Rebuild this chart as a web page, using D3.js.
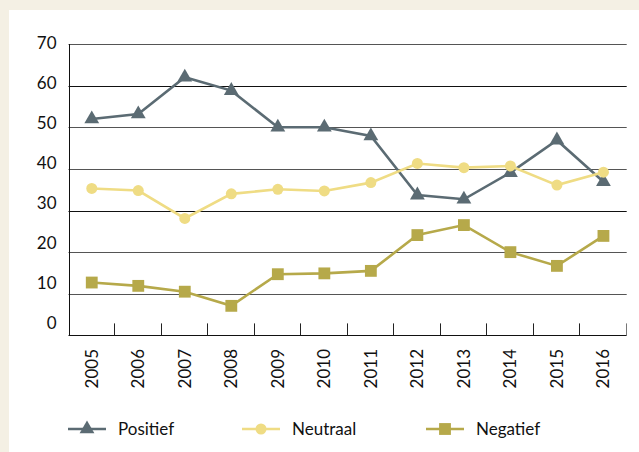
<!DOCTYPE html>
<html>
<head>
<meta charset="utf-8">
<script src="https://cdn.jsdelivr.net/npm/d3@7"></script>
<style>
  html, body { margin: 0; padding: 0; background: #f4f0e4; }
  svg { display: block; font-family: Lato, "Open Sans", sans-serif; }
</style>
</head>
<body>
<script>
const width = 639;
const height = 452;

const years = ['2005', '2006', '2007', '2008', '2009', '2010', '2011', '2012', '2013', '2014', '2015', '2016'];
const positief = [52, 53.2, 62, 58.8, 50, 50, 47.9, 33.7, 32.7, 39.1, 46.9, 36.9];
const neutraal = [35.3, 34.8, 28.1, 34, 35.1, 34.7, 36.7, 41.3, 40.3, 40.7, 36.1, 39.2];
const negatief = [12.7, 11.9, 10.5, 7.1, 14.7, 14.9, 15.5, 24.1, 26.5, 20, 16.7, 23.9];
const yTicks = [0, 10, 20, 30, 40, 50, 60, 70];

const series = [
  {name: 'Positief', values: positief, color: '#5b6b73', symbol: d3.symbolTriangle, size: 95},
  {name: 'Neutraal', values: neutraal, color: '#efdc84', symbol: d3.symbolCircle, size: 95},
  {name: 'Negatief', values: negatief, color: '#b6a94a', symbol: d3.symbolSquare, size: 140}
];

const svg = d3.select('body').append('svg')
  .attr('width', width)
  .attr('height', height);

// white panel on beige page
svg.append('rect')
  .attr('x', 9).attr('y', 10)
  .attr('width', width - 9).attr('height', height - 10)
  .attr('fill', '#fff');

const plotLeft = 68.5, plotRight = 626.7, plotTop = 44, plotBottom = 335.4;

const x = d3.scaleBand().domain(years).range([plotLeft, plotRight]);
const y = d3.scaleLinear().domain([0, 70]).range([plotBottom, plotTop]);
// the labels in the original sit a little off the grid
const yLabel = d3.scaleLinear().domain([0, 70]).range([323, 43]);

// gridlines
svg.append('g')
  .selectAll('line')
  .data(yTicks.filter(d => d > 0))
  .enter().append('line')
    .attr('x1', plotLeft).attr('x2', plotRight)
    .attr('y1', d => Math.round(y(d)) + 0.5)
    .attr('y2', d => Math.round(y(d)) + 0.5)
    .attr('stroke', (d, i) => i % 3 === 2 ? '#111' : '#555')
    .attr('stroke-width', 1.1);

// y labels
const yAxis = svg.append('g')
  .attr('transform', `translate(${plotLeft - 12},0)`)
  .call(d3.axisLeft(yLabel).tickValues(yTicks).tickSize(0).tickPadding(0));
yAxis.select('.domain').remove();
yAxis.selectAll('text')
  .attr('font-size', 17)
  .attr('font-family', 'Lato, "Open Sans", sans-serif')
  .attr('fill', '#111');

// axes lines
svg.append('line')
  .attr('x1', Math.round(plotLeft) + 0.5).attr('x2', Math.round(plotLeft) + 0.5)
  .attr('y1', plotTop).attr('y2', plotBottom)
  .attr('stroke', '#111');
svg.append('line')
  .attr('x1', plotLeft).attr('x2', plotRight)
  .attr('y1', Math.round(plotBottom) + 0.5).attr('y2', Math.round(plotBottom) + 0.5)
  .attr('stroke', '#111');

// x ticks (upward, at band edges)
svg.append('g')
  .selectAll('line')
  .data(years.slice(1).concat(['end']))
  .enter().append('line')
    .attr('x1', d => Math.round(d === 'end' ? plotRight : x(d)) - 0.5)
    .attr('x2', d => Math.round(d === 'end' ? plotRight : x(d)) - 0.5)
    .attr('y1', plotBottom - 12).attr('y2', plotBottom)
    .attr('stroke', d => d === 'end' ? '#777' : '#222');

// year labels, rotated
svg.append('g')
  .selectAll('text')
  .data(years)
  .enter().append('text')
    .attr('transform', d => `translate(${x(d) + x.bandwidth() / 2 + 6},349) rotate(-90)`)
    .attr('text-anchor', 'end')
    .attr('font-size', 17)
    .attr('fill', '#111')
    .text(d => d);

// lines and markers
const line = d3.line()
  .x((d, i) => x(years[i]) + x.bandwidth() / 2)
  .y(d => y(d));

series.forEach(s => {
  svg.append('path')
    .datum(s.values)
    .attr('d', line)
    .attr('fill', 'none')
    .attr('stroke', s.color)
    .attr('stroke-width', 2.6);

  svg.append('g')
    .selectAll('path')
    .data(s.values)
    .enter().append('path')
      .attr('d', d3.symbol().type(s.symbol).size(s.size))
      .attr('transform', (d, i) => `translate(${x(years[i]) + x.bandwidth() / 2},${y(d)})`)
      .attr('fill', s.color);
});

// legend
const legendX = [68, 242, 426];
const legend = svg.append('g')
  .selectAll('g')
  .data(series)
  .enter().append('g')
    .attr('transform', (d, i) => `translate(${legendX[i]},429)`);

legend.append('line')
  .attr('x1', 0).attr('x2', 38)
  .attr('stroke', d => d.color)
  .attr('stroke-width', 2.6);
legend.append('path')
  .attr('d', d => d3.symbol().type(d.symbol).size(d.size)())
  .attr('transform', 'translate(19,0)')
  .attr('fill', d => d.color);
legend.append('text')
  .attr('x', 50)
  .attr('dy', '0.35em')
  .attr('font-size', 17)
  .attr('fill', '#111')
  .text(d => d.name);
</script>
</body>
</html>
